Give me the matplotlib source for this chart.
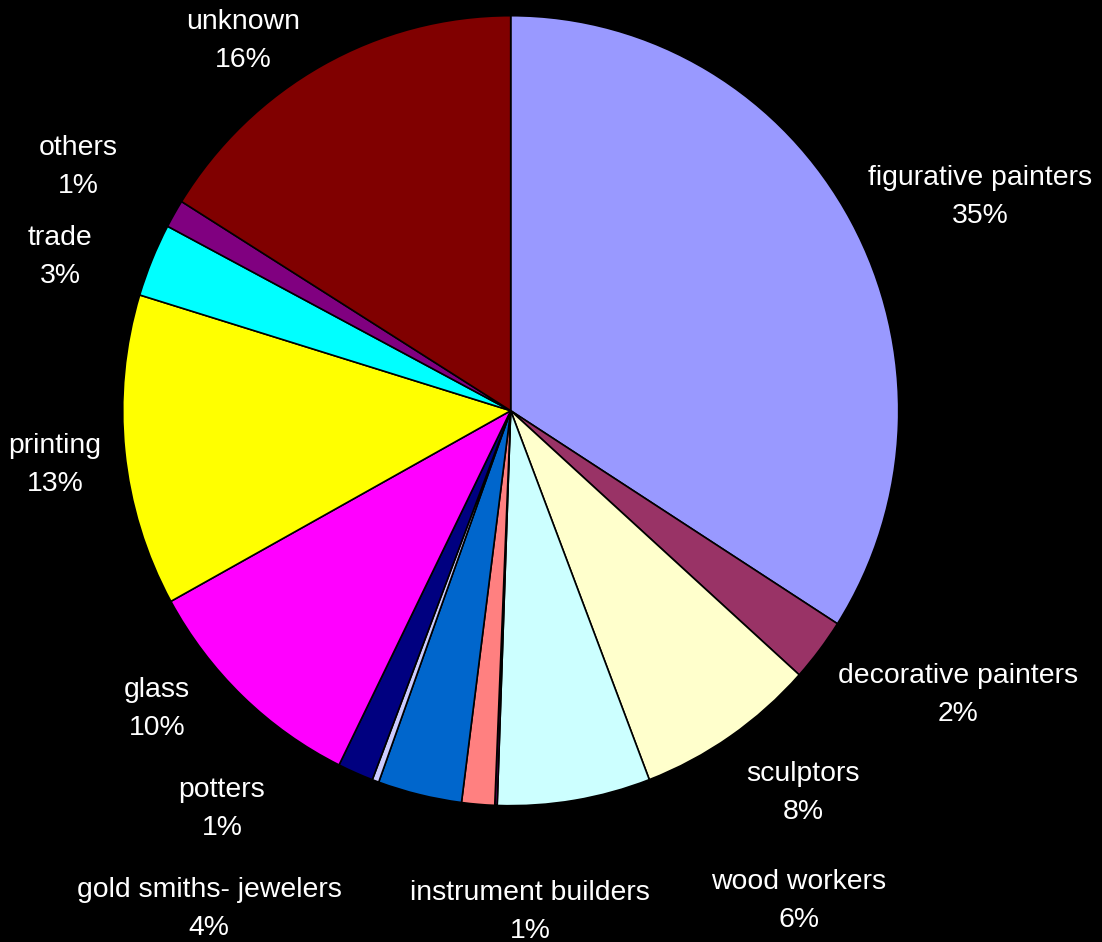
import matplotlib
matplotlib.use("Agg")
import matplotlib.pyplot as plt

# slice order as drawn, clockwise from 12 o'clock
categories = ["figurative painters", "decorative painters", "sculptors", "wood workers",
              "(tiny)", "instrument builders", "gold smiths- jewelers", "(lavender)",
              "potters", "glass", "printing", "trade", "others", "unknown"]
values = [34.07, 2.59, 7.53, 6.37, 0.10, 1.37, 3.50, 0.28, 1.49, 9.69, 12.75, 3.00, 1.15, 16.12]
pct_labels = ["35%", "2%", "8%", "6%", None, "1%", "4%", None, "1%", "10%", "13%", "3%", "1%", "16%"]
colors = ["#9999FF", "#993366", "#FFFFCC", "#CCFFFF", "#660066", "#FF8080", "#0066CC",
          "#CCCCFF", "#000080", "#FF00FF", "#FFFF00", "#00FFFF", "#800080", "#800000"]

# label anchor points (pixel coords, y from top), None = no label
label_pos = [(980, 197), (958, 695), (803, 793), (799, 901), None, (530, 912),
             (209, 909), None, (222, 809), (157, 709), (55, 465), (60, 257),
             (78, 167), (243, 41)]

W, H = 1102, 942
cx, cy = 510.7, 410.7      # pie centre in pixels (y from top)
rx, ry = 388, 395          # the original pie is very slightly squashed

fig = plt.figure(figsize=(W / 100, H / 100), dpi=100, facecolor="black")
ax = fig.add_axes([0, 0, 1, 1])
ax.set_facecolor("black")

ax.pie(values, colors=colors, startangle=90, counterclock=False,
       center=(0, 0), radius=1,
       wedgeprops=dict(edgecolor="black", linewidth=1.2))

ax.set_aspect("auto")
ax.set_xlim(-cx / rx, (W - cx) / rx)
ax.set_ylim(-(H - cy) / ry, cy / ry)
ax.axis("off")

for name, pct, pos in zip(categories, pct_labels, label_pos):
    if pos is None:
        continue
    ax.text(pos[0] / W, 1 - pos[1] / H, name + "\n" + pct, transform=ax.transAxes,
            color="white", fontsize=20.4, family=["Liberation Sans", "DejaVu Sans"],
            ha="center", va="center", multialignment="center", linespacing=1.56)

fig.savefig("out.png", dpi=100, facecolor="black")
